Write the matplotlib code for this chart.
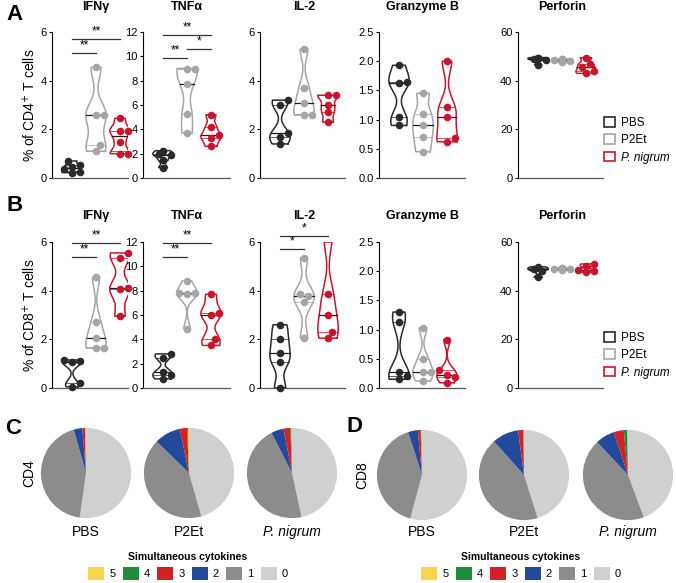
import numpy as np
import matplotlib
matplotlib.use("Agg")
import matplotlib.pyplot as plt
from matplotlib.patches import Patch
from matplotlib.ticker import FormatStrFormatter

plt.rcParams['font.family'] = ['Liberation Sans', 'DejaVu Sans']

W, H = 676, 583

groups = ["PBS", "P2Et", "P. nigrum"]
group_colors = ["#2a2a2a", "#a5a5a5", "#c8152d"]
cytokines = ["IFNγ", "TNFα", "IL-2", "Granzyme B", "Perforin"]
ymax = [6, 12, 6, 2.5, 60]
ytick_step = [2, 2, 2, 0.5, 20]

# CD4 (panel A), % of CD4+ T cells, per group
cd4_ifng = [[0.22, 0.25, 0.35, 0.45, 0.55, 0.7], [1.1, 1.35, 2.6, 2.6, 4.55], [1.0, 1.0, 1.5, 1.95, 1.95, 2.45]]
cd4_tnfa = [[0.85, 1.5, 1.9, 2.0, 2.25], [3.7, 5.3, 7.7, 9.0, 9.0], [2.6, 3.3, 3.5, 4.2, 5.2]]
cd4_il2 = [[1.4, 1.7, 1.85, 3.0, 3.2], [2.6, 2.6, 3.1, 3.7, 5.3], [2.3, 2.7, 3.0, 3.4, 3.4]]
cd4_gzmb = [[0.9, 1.05, 1.63, 1.65, 1.93], [0.45, 0.7, 0.9, 1.1, 1.45], [0.62, 0.68, 1.05, 1.22, 2.0]]
cd4_prf = [[46.5, 48.5, 49.0, 49.2, 49.5], [47.5, 48.0, 48.5, 48.8, 49.0], [43.0, 44.0, 45.5, 47.0, 49.5]]

# CD8 (panel B)
cd8_ifng = [[0.05, 0.2, 1.05, 1.1, 1.15], [1.65, 1.65, 2.05, 2.7, 4.55], [2.95, 4.05, 4.1, 5.35, 5.55]]
cd8_tnfa = [[0.75, 1.05, 1.35, 2.5, 2.8], [4.85, 7.7, 7.8, 7.8, 8.8], [3.5, 4.05, 6.0, 6.2, 7.7]]
cd8_il2 = [[0.0, 1.05, 1.45, 2.0, 2.6], [2.05, 3.55, 3.8, 3.85, 5.35], [2.05, 2.3, 3.0, 3.85, 6.2]]
cd8_gzmb = [[0.15, 0.2, 0.28, 1.13, 1.3], [0.12, 0.28, 0.28, 0.5, 1.03], [0.09, 0.19, 0.22, 0.3, 0.83]]
cd8_prf = [[45.5, 48.0, 48.8, 49.2, 49.8], [48.5, 48.8, 49.0, 49.2, 49.5], [47.5, 48.0, 48.5, 50.0, 51.0]]

# significance bars: (group i, group j, height, label)
sig_cd4 = {0: [(0, 1, 5.15, "**"), (0, 2, 5.7, "**")],
           1: [(0, 1, 9.85, "**"), (1, 2, 10.6, "*"), (0, 2, 11.75, "**")]}
sig_cd8 = {0: [(0, 1, 5.4, "**"), (0, 2, 5.95, "**")],
           1: [(0, 1, 10.8, "**"), (0, 2, 11.95, "**")],
           2: [(0, 1, 5.7, "*"), (0, 2, 6.25, "*")]}

# pies: fraction of cells with n simultaneous cytokines, n = 0..5
levels = ["0", "1", "2", "3", "4", "5"]
level_colors = ["#d0d0d0", "#8c8c8c", "#234a9a", "#d42027", "#1f8b3b", "#f7d44c"]
cd4_pies = [[52.2, 43.4, 3.1, 0.9, 0.2, 0.2],
            [45.6, 41.7, 9.4, 2.6, 0.4, 0.3],
            [46.6, 45.9, 4.5, 2.4, 0.4, 0.2]]
cd8_pies = [[54.2, 40.8, 3.5, 1.0, 0.3, 0.2],
            [45.1, 43.3, 9.5, 1.9, 0.1, 0.1],
            [44.3, 43.7, 6.9, 3.6, 1.3, 0.2]]

fig = plt.figure(figsize=(W / 100, H / 100), dpi=100)


def add_ax(x0, y0, w, h):
    return fig.add_axes([x0 / W, 1 - (y0 + h) / H, w / W, h / H])


def swarm(ax, y, d):
    pts = ax.transData.transform(np.column_stack([np.ones(len(y)), y]))
    ypx = pts[:, 1]
    px_per_x = ax.transData.transform((2, 0))[0] - ax.transData.transform((1, 0))[0]
    offs = np.zeros(len(y))
    placed = []
    for k in np.argsort(y):
        xo = 0.0
        for c in [0, 0.5, -0.5, 1, -1]:
            if all((c * d - a) ** 2 + (ypx[k] - b) ** 2 >= (0.92 * d) ** 2 for a, b in placed):
                xo = c * d
                break
        placed.append((xo, ypx[k]))
        offs[k] = xo / px_per_x
    return offs


def violin(ax, pos, vals, color, top, width=0.85):
    v = np.asarray(vals, float)
    h = 0.5 * v.std(ddof=1) * len(v) ** (-0.2)
    lo, hi = v.min(), min(v.max(), top)
    yy = np.linspace(lo, hi, 200)
    dens = np.exp(-0.5 * ((yy[:, None] - v[None, :]) / h) ** 2).sum(axis=1)
    hw = dens / dens.max() * width / 2
    xs = np.concatenate([pos + hw, (pos - hw)[::-1], [pos + hw[0]]])
    ys = np.concatenate([yy, yy[::-1], [yy[0]]])
    ax.plot(xs, ys, color=color, lw=1.1, solid_joinstyle='round')
    q1, med, q3 = np.percentile(v, [25, 50, 75])
    for q, c, lw in [(q1, color, 0.6), (q3, color, 0.6), (med, "#1a1a1a", 0.9)]:
        if q <= hi:
            w = np.interp(q, yy, hw)
            ax.plot([pos - w, pos + w], [q, q], color=c, lw=lw, alpha=0.85 if c == color else 1)


def violin_row(top, ylabel, datasets, sigs, title_y):
    lefts = [52, 143, 260, 379, 518]
    widths = [76, 87, 85, 86, 85]
    rowh = 146
    for k, (x0, w) in enumerate(zip(lefts, widths)):
        ax = add_ax(x0, top, w, rowh)
        ax.set_xlim(1 - 20 / 24, 1 + (w - 20) / 24)
        ax.set_ylim(0, ymax[k])
        ax.set_yticks(np.arange(0, ymax[k] + 1e-9, ytick_step[k]))
        if k == 3:
            ax.yaxis.set_major_formatter(FormatStrFormatter('%.1f'))
        ax.set_xticks([])
        for s in ["top", "right"]:
            ax.spines[s].set_visible(False)
        ax.spines["left"].set_linewidth(0.8)
        ax.spines["bottom"].set_linewidth(0.9)
        ax.spines["bottom"].set_color("#555555")
        ax.tick_params(axis='y', direction='out', length=2.5, width=0.8, pad=1.5, labelsize=8)
        for g, vals in enumerate(datasets[k]):
            violin(ax, g + 1, vals, group_colors[g], ymax[k])
            v = np.asarray(vals, float)
            m = v <= ymax[k]
            offs = swarm(ax, v, 7.6)
            ax.scatter(g + 1 + offs[m], v[m], s=30, color=group_colors[g], lw=0,
                       zorder=3, clip_on=False)
        for i, j, y, lab in sigs.get(k, []):
            ax.plot([i + 1, j + 1], [y, y], color="#333333", lw=0.9, clip_on=False)
            ax.annotate(lab, xy=((i + j) / 2 + 1, y), xytext=(0, 1), textcoords='offset points',
                        ha='center', va='bottom', fontsize=8.5, annotation_clip=False)
        ax.annotate(cytokines[k], xy=(2, 1), xycoords=('data', 'axes fraction'),
                    xytext=(0, title_y), textcoords='offset pixels', ha='center', va='center',
                    fontsize=9, fontweight='bold', annotation_clip=False)
    fig.text(30 / W, 1 - (top + rowh / 2) / H, ylabel, rotation=90, ha='center', va='center',
             fontsize=10)


violin_row(32, "% of CD4$^{+}$ T cells", [cd4_ifng, cd4_tnfa, cd4_il2, cd4_gzmb, cd4_prf], sig_cd4, 25)
violin_row(242, "% of CD8$^{+}$ T cells", [cd8_ifng, cd8_tnfa, cd8_il2, cd8_gzmb, cd8_prf], sig_cd8, 26)

for ytop in [117, 332]:
    handles = [Patch(facecolor='white', edgecolor=c, lw=1.2) for c in group_colors]
    leg = fig.legend(handles, groups, loc='upper left', bbox_to_anchor=(604 / W, 1 - ytop / H),
                     frameon=False, fontsize=8.5, handlelength=0.9, handleheight=0.9,
                     labelspacing=0.45, handletextpad=0.5, borderpad=0, borderaxespad=0)
    leg.get_texts()[2].set_fontstyle('italic')

# panel letters
for lab, x, y in [("A", 6, 15), ("B", 6, 206), ("C", 5, 428), ("D", 347, 427)]:
    fig.text(x / W, 1 - y / H, lab, fontsize=16, fontweight='bold', ha='left', va='center')

# pies
for centers, pies, cy, side_lab, side_x, leg_x in [
        ([86, 189, 292], cd4_pies, 473, "CD4", 29, 188),
        ([422, 524, 628], cd8_pies, 475, "CD8", 362, 521)]:
    for g, (cx, vals) in enumerate(zip(centers, pies)):
        ax = add_ax(cx - 46, cy - 46, 92, 92)
        ax.pie(vals, colors=level_colors, startangle=90, counterclock=False,
               wedgeprops=dict(linewidth=0))
        ax.set_xlim(-1.02, 1.02)
        ax.set_ylim(-1.02, 1.02)
        fig.text(cx / W, 1 - 532 / H, groups[g], ha='center', va='center', fontsize=10,
                 fontstyle='italic' if g == 2 else 'normal')
    fig.text(side_x / W, 1 - cy / H, side_lab, rotation=90, ha='center', va='center', fontsize=10)
    handles = [Patch(facecolor=level_colors[n], edgecolor='none') for n in range(5, -1, -1)]
    fig.legend(handles, levels[::-1], loc='center', bbox_to_anchor=(leg_x / W, 1 - 566 / H),
               ncol=6, frameon=False, fontsize=8, handlelength=1.45, handleheight=1.45,
               handletextpad=0.45, columnspacing=0.65, borderpad=0, borderaxespad=0,
               title="Simultaneous cytokines",
               title_fontproperties={'weight': 'bold', 'size': 7.5})

fig.savefig("out.png", dpi=100)
